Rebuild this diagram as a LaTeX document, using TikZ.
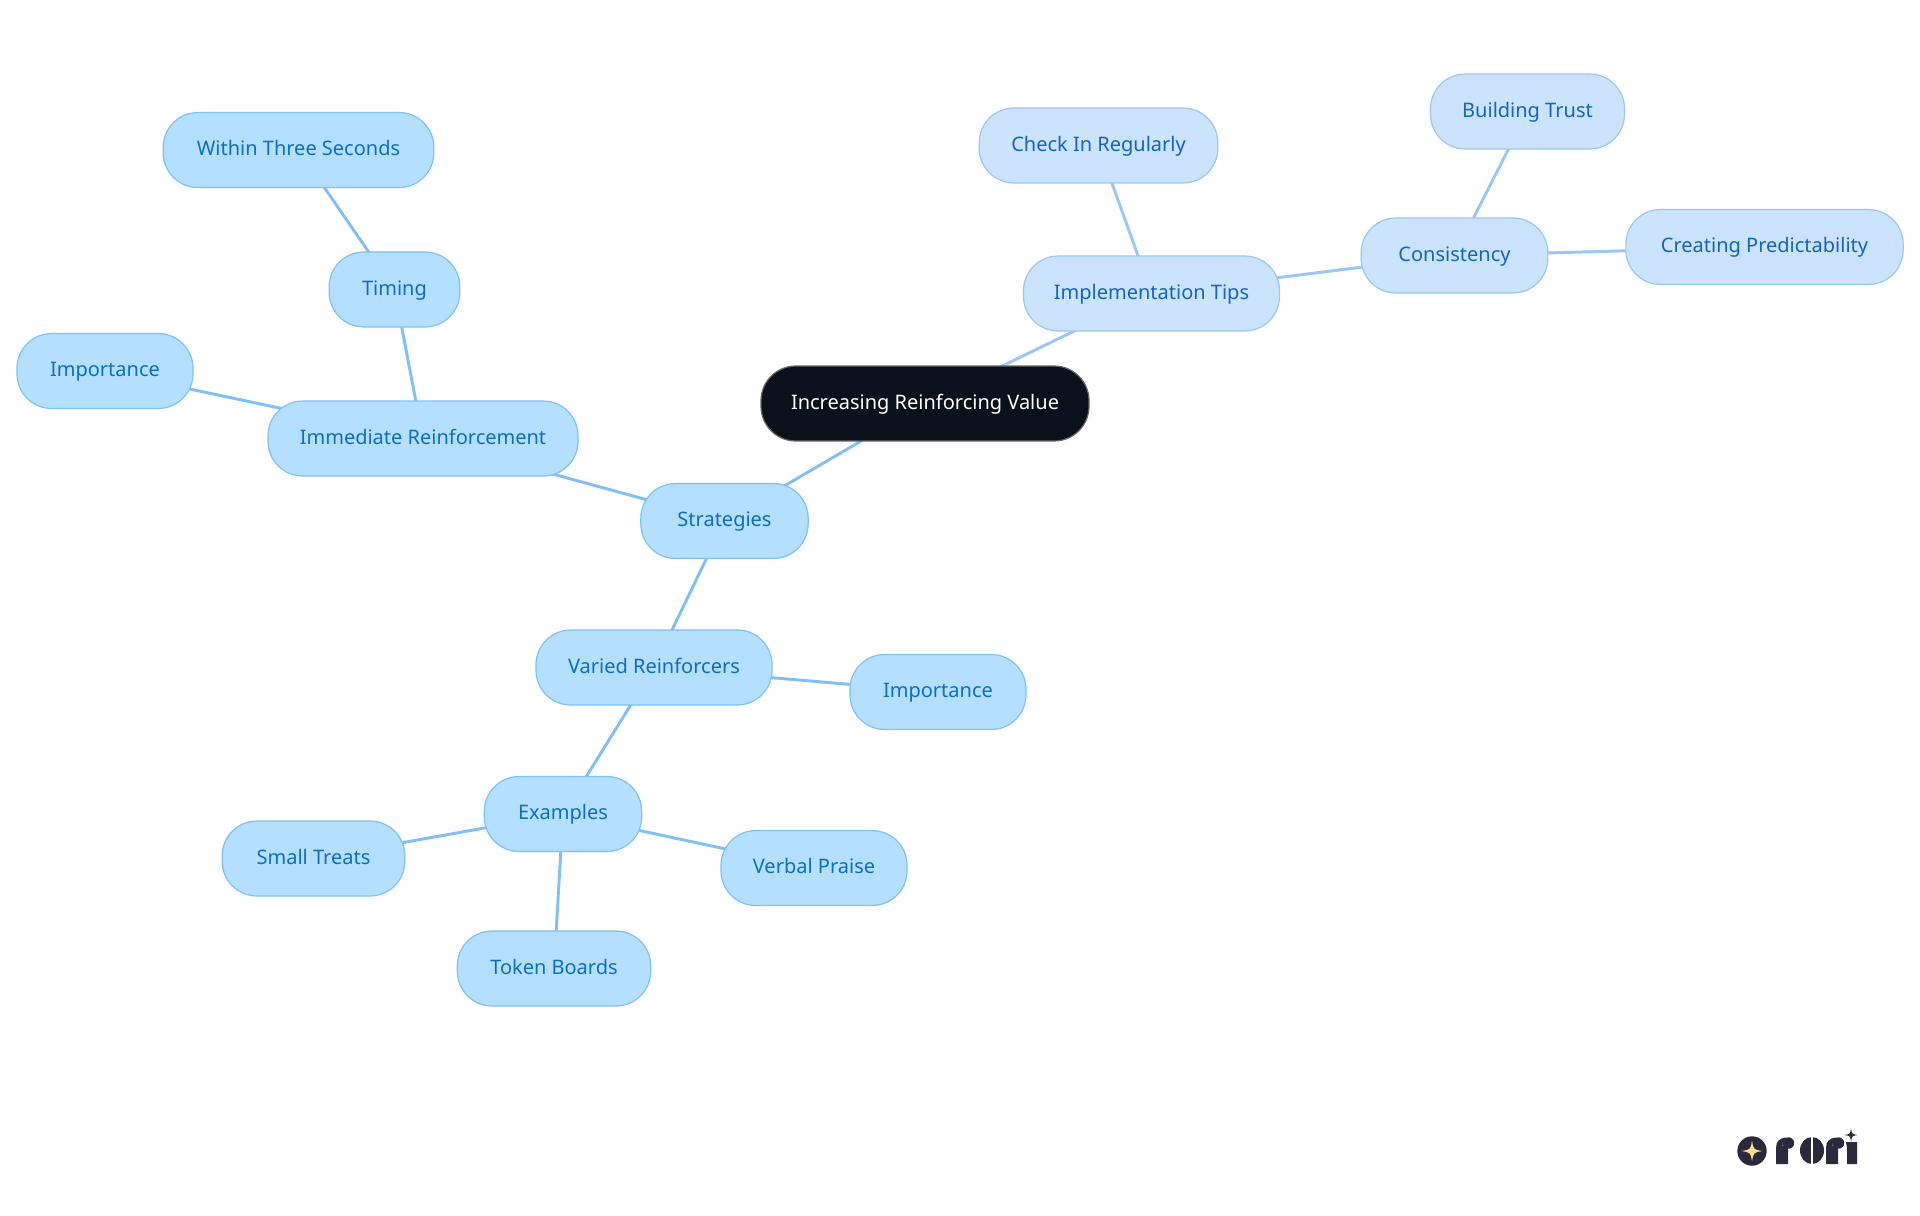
\documentclass[tikz,border=0pt]{standalone}
\usepackage{fontspec}
\setmainfont{Noto Sans}
\usetikzlibrary{backgrounds}
\definecolor{bluefill}{HTML}{B5DFFF}
\definecolor{blueline}{HTML}{7FC1F4}
\definecolor{bluetext}{HTML}{0A70C2}
\definecolor{palefill}{HTML}{CCE3FD}
\definecolor{paleline}{HTML}{9CC6F5}
\definecolor{paletext}{HTML}{1464C4}
\definecolor{rootfill}{HTML}{0B111A}
\definecolor{logoink}{HTML}{2A2A3C}
\definecolor{logostar}{HTML}{FBDB8C}
\tikzset{
  mm/.style={rectangle,rounded corners=26pt,minimum height=56.2pt,inner sep=0pt,line width=0.9pt,
    align=center,text height=10.8pt,text depth=2.5pt,font=\fontsize{15}{18}\selectfont},
  bluenode/.style={mm,fill=bluefill,draw=blueline,text=bluetext},
  palenode/.style={mm,fill=palefill,draw=paleline,text=paletext},
  rootnode/.style={mm,fill=rootfill,draw=black!60,text=white},
  blueedge/.style={draw=blueline,line width=2.2pt},
  paleedge/.style={draw=paleline,line width=2.2pt},
}
\newcommand{\fourstar}[4]{\fill[#4] (#1,#2-#3) .. controls (#1+0.14*#3,#2-0.14*#3) .. (#1+#3,#2) .. controls (#1+0.14*#3,#2+0.14*#3) .. (#1,#2+#3) .. controls (#1-0.14*#3,#2+0.14*#3) .. (#1-#3,#2) .. controls (#1-0.14*#3,#2-0.14*#3) .. cycle;}
\begin{document}
\begin{tikzpicture}[x=0.75pt,y=-0.75pt]
\useasboundingbox (0,0) rectangle (1920,1215);
\node[rootnode,minimum width=246pt] (root) at (925,403.5) {Increasing Reinforcing Value};
\node[bluenode,minimum width=125.5pt] (strategies) at (724.5,521) {Strategies};
\node[bluenode,minimum width=232.5pt] (immediate) at (423,438.5) {Immediate Reinforcement};
\node[bluenode,minimum width=98pt] (timing) at (394.5,289.5) {Timing};
\node[bluenode,minimum width=203pt] (within) at (298.5,150) {Within Three Seconds};
\node[bluenode,minimum width=132pt] (impA) at (105,371) {Importance};
\node[bluenode,minimum width=177pt] (varied) at (654,667.5) {Varied Reinforcers};
\node[bluenode,minimum width=132pt] (impB) at (938,692) {Importance};
\node[bluenode,minimum width=118pt] (examples) at (563,814) {Examples};
\node[bluenode,minimum width=137pt] (treats) at (313.5,858.5) {Small Treats};
\node[bluenode,minimum width=139.5pt] (praise) at (814,868) {Verbal Praise};
\node[bluenode,minimum width=145pt] (token) at (554,968.5) {Token Boards};
\node[palenode,minimum width=192pt] (tips) at (1151.5,293.5) {Implementation Tips};
\node[palenode,minimum width=179pt] (check) at (1098.5,145.5) {Check In Regularly};
\node[palenode,minimum width=140pt] (consistency) at (1454.5,255.5) {Consistency};
\node[palenode,minimum width=145.5pt] (trust) at (1527.5,111.5) {Building Trust};
\node[palenode,minimum width=208pt] (predict) at (1764.5,247) {Creating Predictability};
\begin{pgfonlayer}{background}
\fill[white] (0,0) rectangle (1920,1215);
\draw[blueedge] (root.center) -- (strategies.center);
\draw[blueedge] (strategies.center) -- (immediate.center);
\draw[blueedge] (immediate.center) -- (timing.center);
\draw[blueedge] (timing.center) -- (within.center);
\draw[blueedge] (immediate.center) -- (impA.center);
\draw[blueedge] (strategies.center) -- (varied.center);
\draw[blueedge] (varied.center) -- (impB.center);
\draw[blueedge] (varied.center) -- (examples.center);
\draw[blueedge] (examples.center) -- (treats.center);
\draw[blueedge] (examples.center) -- (praise.center);
\draw[blueedge] (examples.center) -- (token.center);
\draw[paleedge] (root.center) -- (tips.center);
\draw[paleedge] (tips.center) -- (check.center);
\draw[paleedge] (tips.center) -- (consistency.center);
\draw[paleedge] (consistency.center) -- (trust.center);
\draw[paleedge] (consistency.center) -- (predict.center);
\end{pgfonlayer}
% logo
\fill[logoink] (1752,1151) circle[radius=14.7];
\fourstar{1752}{1151}{10.5}{logostar}
\fill[logoink] (1776,1164) -- (1776,1148) .. controls (1776,1141) and (1780,1138) .. (1786,1137.5) -- (1788,1150) -- (1788,1164) -- cycle;
\draw[white,line width=0.5pt] (1783,1146) .. controls (1783,1141) and (1785,1139) .. (1787,1138);
\fill[logoink] (1788.5,1143) circle[radius=5.7];
\fill[logoink] (1812,1150.5) ellipse[x radius=12,y radius=13.5];
\fill[white] (1811.2,1137) rectangle (1812.8,1164);
\fill[logoink] (1826,1164) -- (1826,1148) .. controls (1826,1141) and (1830,1138) .. (1836,1137.5) -- (1838,1150) -- (1838,1164) -- cycle;
\draw[white,line width=0.5pt] (1833,1146) .. controls (1833,1141) and (1835,1139) .. (1837,1138);
\fill[logoink] (1838.5,1143) circle[radius=5.7];
\fill[logoink] (1846,1142) -- (1857,1142) -- (1857,1164) -- (1847,1164) -- (1847,1148) -- cycle;
\fourstar{1851}{1135}{6.5}{logoink}
\end{tikzpicture}
\end{document}
